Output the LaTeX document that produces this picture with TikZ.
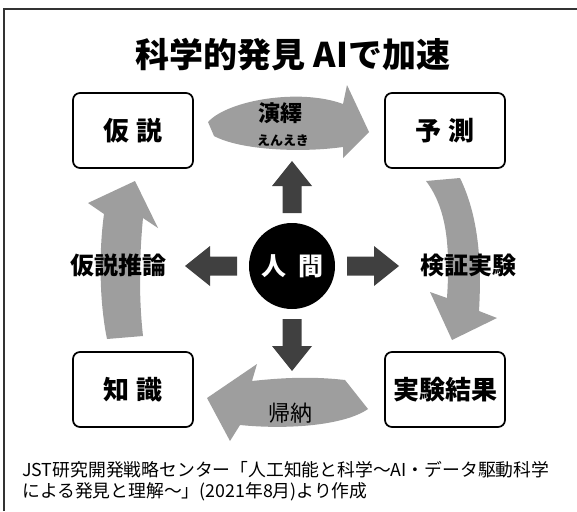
\documentclass[tikz,border=0pt]{standalone}
\usepackage{fontspec}
\setmainfont{Noto Sans CJK JP}
\usetikzlibrary{shapes.geometric}
\tikzset{
  box/.style={draw, line width=1.7pt, rounded corners=7pt, minimum width=120pt, minimum height=75pt, inner sep=0pt, font=\bfseries\fontsize{26}{30}\selectfont},
  lbl/.style={inner sep=0pt, font=\bfseries\fontsize{24}{28}\selectfont},
  cfill/.style={fill=black!38},
  darr/.pic={\fill[black!75] (0,-9.5) -- (27,-9.5) -- (27,-20) -- (52,0) -- (27,20) -- (27,9.5) -- (0,9.5) -- cycle;}
}
\begin{document}
\begin{tikzpicture}[x=1pt,y=-1pt]
\useasboundingbox (0,0) rectangle (577,511);
\draw[line width=1.5pt, black!80] (4,511) -- (4,9) -- (577,9);
% title
\node[inner sep=0pt, font=\bfseries\fontsize{34}{40}\selectfont] (title) at (293,55) {科学的発見 AIで加速};
% curved arrows
% top (deduction)
\fill[cfill] (208,122) .. controls (228,100) and (300,88) .. (343,104) -- (347,85) -- (369,132) -- (343,158) -- (343,147) .. controls (300,153) and (240,150) .. (214,136) -- cycle;
% right (verification)
\fill[cfill] (460,178) .. controls (478,215) and (482,260) .. (479,311) -- (497,318) -- (452,340) -- (430,292) -- (447,298) .. controls (450,250) and (448,210) .. (426,181) -- cycle;
% bottom (induction)
\fill[cfill] (345,380) .. controls (310,376) and (280,378) .. (252,381) -- (257,364) -- (207,398) -- (230,441) -- (240,425) .. controls (290,430) and (345,425) .. (368,409) -- cycle;
% left (abduction)
\fill[cfill] (107,339) .. controls (99,300) and (99,250) .. (104,214) -- (88,203) -- (135,181) -- (158,228) -- (143,218) .. controls (139,260) and (139,300) .. (143,336) -- cycle;
% boxes
\node[box] (hyp) at (133,130.5) {仮\hspace{7pt}説};
\node[box] (pred) at (445,130.5) {予\hspace{7pt}測};
\node[box] (know) at (133,389.5) {知\hspace{7pt}識};
\node[box] (res) at (445,389.5) {実験結果};
% arrow labels
\node[inner sep=0pt, font=\bfseries\fontsize{22}{24}\selectfont] (ded) at (280,113) {演繹};
\node[inner sep=0pt, font=\bfseries\fontsize{13}{14}\selectfont] (dedr) at (283,141) {えんえき};
\node[inner sep=0pt, font=\fontsize{22}{26}\selectfont] (ind) at (290,413) {帰納};
\node[lbl] (abd) at (118,265) {仮説推論};
\node[lbl] (ver) at (468,265) {検証実験};
% human
\node[circle, fill=black, minimum size=86pt, inner sep=0pt, text=white, font=\bfseries\fontsize{25}{30}\selectfont] (hum) at (292,266) {人\hspace{12pt}間};
\pic at (347,266) {darr};
\pic[rotate=180] at (237,266) {darr};
\pic[rotate=90] at (292,213) {darr};
\pic[rotate=-90] at (292,319) {darr};
% caption
\node[anchor=west, align=left, inner sep=0pt, font=\fontsize{17.8}{20.5}\selectfont] (cap) at (22,481) {JST研究開発戦略センター「人工知能と科学〜AI・データ駆動科学\\による発見と理解〜」(2021年8月)より作成};
\end{tikzpicture}
\end{document}
